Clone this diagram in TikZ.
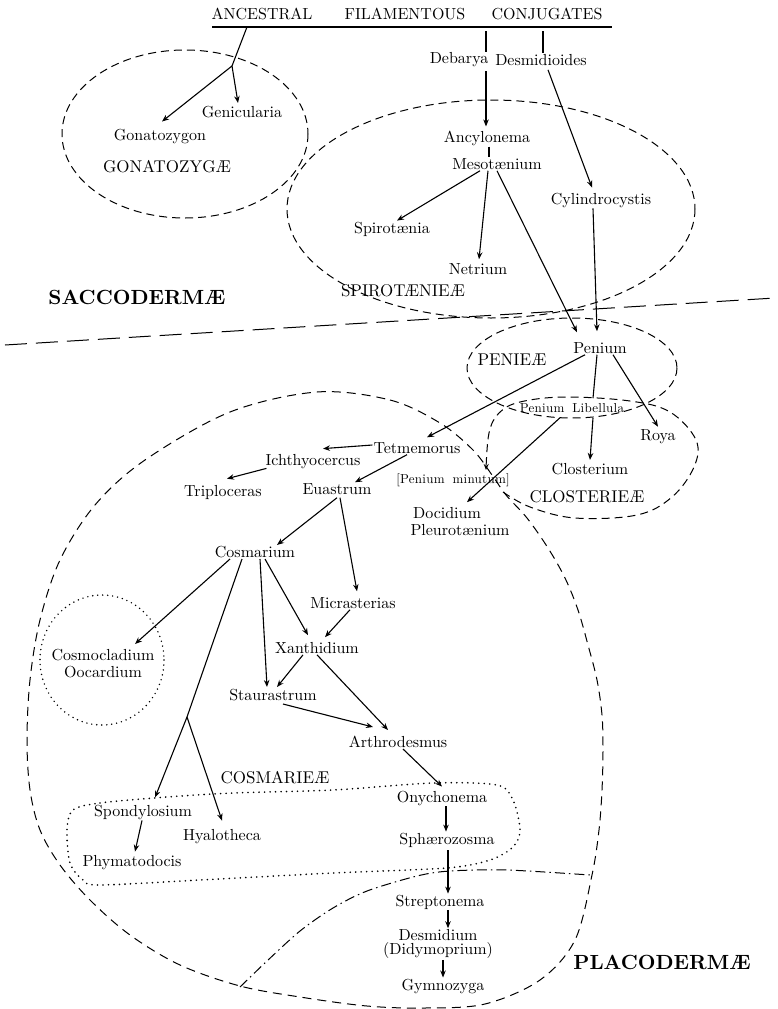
\documentclass[tikz,border=0pt]{standalone}
\usepackage{fontspec}
\setmainfont{lmroman10-regular.otf}[BoldFont=lmroman10-bold.otf]
\usetikzlibrary{arrows.meta,calc}
\tikzset{
 txt/.style={font=\fontsize{16}{18}\selectfont, inner sep=1pt},
 sml/.style={font=\fontsize{13}{15}\selectfont\addfontfeature{LetterSpace=2}, inner sep=1pt},
 grp/.style={font=\fontsize{17}{19}\selectfont, inner sep=1pt},
 ttl/.style={font=\fontsize{16}{18}\selectfont, inner sep=1pt},
 bigl/.style={font=\fontsize{20.5}{22}\selectfont\bfseries, inner sep=1pt},
 arr/.style={-{Stealth[length=7pt,width=5.5pt]}, line width=1.1pt},
 ln/.style={line width=1.1pt},
 dsh/.style={dash pattern=on 8pt off 5pt, line width=1pt},
 longdsh/.style={dash pattern=on 22pt off 9pt, line width=1pt},
 dotline/.style={dash pattern=on 0pt off 5.5pt, line cap=round, line width=1.8pt},
 dashdotline/.style={dash pattern=on 10pt off 4pt on 1.5pt off 4pt, line width=1pt},
}
\begin{document}
\begin{tikzpicture}[x=1pt,y=-1pt]
\fill[white] (0,0) rectangle (777,1009);
\useasboundingbox (0,0) rectangle (777,1009);

% ---------- title ----------
\node[ttl] (t1) at (262,14) {ANCESTRAL};
\node[ttl] (t2) at (405,14) {FILAMENTOUS};
\node[ttl] (t3) at (547,14) {CONJUGATES};
\coordinate (ul) at (212,27);
\coordinate (ur) at (612,27);
\draw[line width=1.3pt] (ul) -- (ur);

% ---------- region outlines ----------
\draw[dsh] (185,134) ellipse [x radius=123, y radius=84];
\draw[dsh] (491,209) ellipse [x radius=204, y radius=109];
\draw[dsh] (572,368) ellipse [x radius=105, y radius=50];
\coordinate (dl) at (5,345);
\coordinate (dr) at (775,298);
\draw[longdsh] (dl) -- (dr);

% Placodermae boundary
\draw[dsh, dash pattern=on 9pt off 6pt] plot[smooth cycle, tension=0.55] coordinates {
 (317,392) (390,400) (440,423) (473,450) (492,475) (506,495) (527,518)
 (548,548) (565,578) (578,610) (588,645) (597,680) (602,715) (603,750)
 (602,790) (599,830) (592,875) (575,940) (540,980) (485,1004) (425,1008)
 (367,1006) (300,997) (240,986) (180,965) (130,935) (90,900) (60,865)
 (40,830) (30,790) (27,740) (30,680) (40,620) (60,560) (95,505) (145,460) (230,412)};

% Closterieae loop (ends with arrow at Penium minutum)
\draw[dsh, -{Stealth[length=6pt,width=5pt]}] plot[smooth, tension=0.6] coordinates {
 (503,492) (530,507) (575,518) (637,515) (672,497) (694,467) (696,440)
 (670,412) (630,401) (565,397) (520,402) (499,413) (489,433) (486,470)};

% Cosmarieae dotted loop
\draw[dotline] plot[smooth cycle, tension=0.5] coordinates {
 (73,810) (100,803) (167,797) (233,793) (333,790) (433,783) (497,785)
 (513,800) (520,830) (513,847) (490,860) (447,868) (333,873) (200,880)
 (100,885) (83,880) (70,863) (67,830)};

% Cosmocladium dotted circle
\draw[dotline, dash pattern=on 0pt off 5pt, line width=1.6pt] (102,660) ellipse [x radius=62, y radius=65];

% dash-dot line
\draw[dashdotline] plot[smooth, tension=0.5] coordinates {
 (240,987) (267,961) (300,931) (333,908) (367,891) (417,876) (450,871) (507,870) (590,875)};

% ---------- nodes ----------
\node[txt] (gen) at (242,112) {Genicularia};
\node[txt] (gon) at (160,137) {Gonatozygon};
\node[grp] (gonz) at (167,167) {GONATOZYGÆ};
\node[txt] (deb) at (459,60) {Debarya};
\node[txt] (desm) at (541,60) {Desmidioides};
\node[txt] (ancy) at (487,138) {Ancylonema};
\node[txt] (meso) at (497,164) {Mesotænium};
\node[txt] (spiro) at (392,229) {Spirotænia};
\node[txt] (net) at (478,269) {Netrium};
\node[txt] (cyl) at (601,200) {Cylindrocystis};
\node[grp] (spz) at (403,291) {SPIROTÆNIEÆ};
\node[bigl] (sacc) at (137,297) {SACCODERMÆ};
\node[txt] (pen) at (600,348) {Penium};
\node[grp] (penz) at (512,360) {PENIEÆ};
\node[sml] (lib) at (572,408) {Penium\hspace{8pt}Libellula};
\node[txt] (roya) at (658,437) {Roya};
\node[txt] (clos) at (590,469) {Closterium};
\node[grp] (closz) at (587,497) {CLOSTERIEÆ};
\node[txt] (tet) at (417,448) {Tetmemorus};
\node[txt] (ich) at (313,462) {Ichthyocercus};
\node[txt] (trip) at (223,492) {Triploceras};
\node[txt] (eua) at (337,489) {Euastrum};
\node[sml] (pmin) at (453,480) {[Penium\hspace{8pt}minutum]};
\node[txt] (doc) at (447,513) {Docidium};
\node[txt] (pleu) at (460,530) {Pleurotænium};
\node[txt] (cos) at (255,552) {Cosmarium};
\node[txt] (mic) at (353,603) {Micrasterias};
\node[txt] (cosmo) at (103,655) {Cosmocladium};
\node[txt] (ooc) at (103,672) {Oocardium};
\node[txt] (xan) at (317,648) {Xanthidium};
\node[txt] (staur) at (273,695) {Staurastrum};
\node[txt] (arth) at (398,742) {Arthrodesmus};
\node[grp] (cosz) at (275,778) {COSMARIEÆ};
\node[txt] (ony) at (442,798) {Onychonema};
\node[txt] (sph) at (447,840) {Sphærozosma};
\node[txt] (spond) at (143,812) {Spondylosium};
\node[txt] (hyal) at (222,837) {Hyalotheca};
\node[txt] (phym) at (132,863) {Phymatodocis};
\node[txt] (strep) at (440,902) {Streptonema};
\node[txt, align=center, font=\fontsize{16}{14}\selectfont] (desmi) at (438,944) {Desmidium\\(Didymoprium)};
\node[txt] (gym) at (443,986) {Gymnozyga};
\node[bigl] (placo) at (662,962) {PLACODERMÆ};

% ---------- connectors ----------
\coordinate (b1) at (247,27);
\coordinate (jn) at (232,66);
\draw[ln] (b1) -- (jn);
\draw[arr] (jn) -- ([xshift=-4pt,yshift=2pt]gen.north);
\draw[arr] (jn) -- ([xshift=2pt,yshift=7pt]gon.north);

\coordinate (d1) at (486,31);
\draw[ln] (d1) -- (d1 |- deb.north);
\draw[arr] ([yshift=-3pt]d1 |- deb.south) -- ([yshift=3pt]d1 |- ancy.north);
\coordinate (d2) at (543,31);
\draw[ln] (d2) -- (d2 |- desm.north);
\draw[arr] ([xshift=7pt,yshift=-3pt]desm.south) -- ([xshift=-9pt,yshift=4pt]cyl.north);

\draw[ln] ([xshift=2pt]ancy.south) -- ([xshift=2pt]ancy.south |- meso.north);
\draw[arr] ([xshift=-17pt]meso.south) -- ([xshift=5pt]spiro.north);
\draw[arr] ([xshift=-9pt]meso.south) -- ([xshift=1pt,yshift=3pt]net.north);
\draw[arr] (meso.south) -- ([xshift=-23pt,yshift=9pt]pen.north);
\draw[arr] ([xshift=-8pt]cyl.south) -- ([xshift=-3pt,yshift=10pt]pen.north);

\draw[arr] ([xshift=-15pt]pen.south) -- ([xshift=10pt,yshift=4pt]tet.north);
\draw[ln] ([xshift=-3pt]pen.south) -- ([xshift=21pt,yshift=4pt]lib.north);
\draw[arr] ([xshift=13pt]pen.south) -- ([yshift=2pt]roya.north);
\draw[arr] ([xshift=21pt,yshift=-4pt]lib.south) -- ([yshift=2pt]clos.north);
\draw[arr] ([xshift=-12pt,yshift=-4pt]lib.south) -- ([xshift=20pt,yshift=4pt]doc.north);

\draw[arr] ([yshift=3pt]tet.west) -- ([xshift=10pt,yshift=5pt]ich.north);
\draw[arr] ([xshift=2pt,yshift=2pt]ich.south west) -- ([xshift=4pt,yshift=5pt]trip.north);
\draw[arr] ([xshift=-10pt]tet.south) -- ([xshift=18pt]eua.north);
\draw[arr] ([xshift=0pt,yshift=-2pt]eua.south) -- ([xshift=22pt]cos.north);
\draw[arr] ([xshift=3pt,yshift=-2pt]eua.south) -- ([xshift=4pt,yshift=5pt]mic.north);

\coordinate (jn2) at (187,717);
\draw[arr] ([xshift=-25pt]cos.south) -- ([xshift=32pt,yshift=4pt]cosmo.north);
\draw[ln] ([xshift=-13pt]cos.south) -- (jn2);
\draw[arr] (jn2) -- ([xshift=12pt,yshift=6pt]spond.north);
\draw[arr] (jn2) -- ([yshift=8pt]hyal.north);
\draw[arr] ([xshift=5pt]cos.south) -- ([xshift=-6pt,yshift=1pt]staur.north);
\draw[arr] ([xshift=10pt]cos.south) -- ([xshift=-9pt,yshift=6pt]xan.north);
\draw[arr] ([xshift=-3pt]mic.south) -- ([xshift=8pt,yshift=4pt]xan.north);
\draw[arr] ([xshift=-14pt]xan.south) -- ([xshift=4pt,yshift=1pt]staur.north);
\draw[arr] (xan.south) -- ([xshift=-10pt,yshift=5pt]arth.north);
\draw[arr] ([xshift=10pt,yshift=-2pt]staur.south) -- ([xshift=-25pt,yshift=8pt]arth.north);
\draw[arr] ([xshift=5pt]arth.south) -- ([yshift=3pt]ony.north);
\draw[arr] ([xshift=4pt]ony.south) -- ([xshift=4pt]ony.south |- sph.north);
\draw[arr] ([xshift=-1pt]spond.south) -- ([xshift=3pt,yshift=3pt]phym.north);
\draw[arr] ([xshift=1pt,yshift=-2pt]sph.south) -- ([xshift=1pt]sph.south |- strep.north);
\draw[arr] ([xshift=8pt]strep.south) -- ([xshift=8pt]strep.south |- desmi.north);
\draw[arr] ([xshift=5pt]desmi.south) -- ([xshift=5pt]desmi.south |- gym.north);
\end{tikzpicture}
\end{document}
